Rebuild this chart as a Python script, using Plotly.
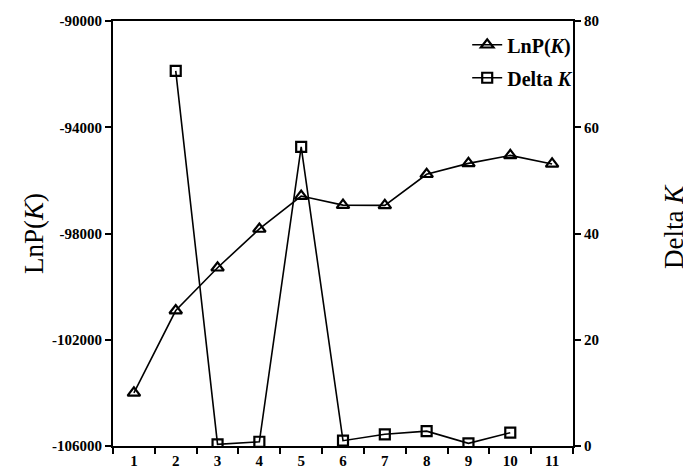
import plotly.graph_objects as go

K = [1, 2, 3, 4, 5, 6, 7, 8, 9, 10, 11]
lnp = [-104000, -100900, -99290, -97830, -96590, -96930, -96940, -95770, -95360, -95060, -95380]
K_delta = [2, 3, 4, 5, 6, 7, 8, 9, 10]
delta_k = [70.6, 0.3, 0.8, 56.3, 1.0, 2.2, 2.8, 0.5, 2.5]

y1_ticks = [-106000, -102000, -98000, -94000, -90000]
y1_labels = ["-106000", "-102000", "-98000", "-94000", "-90000"]
y2_ticks = [0, 20, 40, 60, 80]
x_bounds = [k - 0.5 for k in K] + [K[-1] + 0.5]

FONT = "Liberation Serif, Times New Roman, serif"

fig = go.Figure()
fig.add_trace(go.Scatter(
    x=K, y=lnp, name="LnP(<i>K</i>)", mode="lines+markers",
    line=dict(color="black", width=1.6),
    marker=dict(symbol="triangle-up-open", size=11, color="black", line=dict(width=2.2)),
    yaxis="y", legendgroup="a"))
fig.add_trace(go.Scatter(
    x=K_delta, y=delta_k, name="Delta <i>K</i>", mode="lines+markers",
    line=dict(color="black", width=1.6),
    marker=dict(symbol="square-open", size=10, color="black", line=dict(width=2.2)),
    yaxis="y2", legendgroup="b"))

axis_common = dict(showline=True, linecolor="black", linewidth=2, showgrid=False,
                   zeroline=False, ticks="outside", ticklen=6, tickwidth=1.5,
                   tickcolor="black", automargin=False,
                   tickfont=dict(family=FONT, size=15, color="black", weight="bold"))

# the page body adds an 8px offset at the top-left, so the figure is sized to fit
fig.update_layout(
    width=683, height=462, autosize=False,
    margin=dict(l=105, r=118, t=13, b=24, pad=0),
    paper_bgcolor="white", plot_bgcolor="white",
    font=dict(family=FONT, color="black"),
    showlegend=True,
    legend=dict(x=0.77, y=0.99, xanchor="left", yanchor="top",
                bgcolor="rgba(0,0,0,0)", borderwidth=0, tracegroupgap=4,
                font=dict(family=FONT, size=20, color="black", weight="bold")),
    xaxis=dict(range=[0.5, 11.5], tickvals=K, ticktext=[str(k) for k in K],
               ticks="", showline=True, linecolor="black", linewidth=2,
               mirror=True, showgrid=False, zeroline=False, automargin=False,
               tickfont=dict(family=FONT, size=15, color="black", weight="bold"),
               minor=dict(tickvals=x_bounds, ticks="outside", ticklen=6,
                          tickwidth=1.5, tickcolor="black", showgrid=False)),
    yaxis=dict(range=[-106000, -90000], tickvals=y1_ticks, ticktext=y1_labels,
               **axis_common),
    yaxis2=dict(range=[0, 80], tickvals=y2_ticks, overlaying="y", side="right",
                **axis_common),
    annotations=[
        dict(text="LnP(<i>K</i>)", xref="paper", yref="paper", x=-0.172, y=0.501,
             textangle=-90, showarrow=False, xanchor="center", yanchor="middle",
             font=dict(family=FONT, size=27, color="black")),
        dict(text="Delta <i>K</i>", xref="paper", yref="paper", x=1.218, y=0.516,
             textangle=-90, showarrow=False, xanchor="center", yanchor="middle",
             font=dict(family=FONT, size=27, color="black")),
    ],
)

fig.write_html("out.html")
